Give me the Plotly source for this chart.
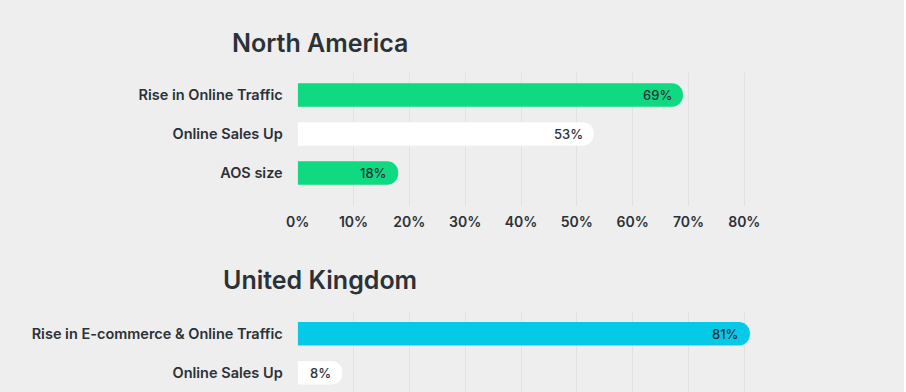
import plotly.graph_objects as go

# ---- data ----
na_categories = ["Rise in Online Traffic", "Online Sales Up", "AOS size"]
na_values = [69, 53, 18]
na_colors = ["#0fd981", "#ffffff", "#0fd981"]

uk_categories = ["Rise in E-commerce & Online Traffic", "Online Sales Up"]
uk_values = [81, 8]
uk_colors = ["#05c9e6", "#ffffff"]

x_tickvals = [0, 10, 20, 30, 40, 50, 60, 70, 80]
x_ticktext = [f"{v}%" for v in x_tickvals]

titles = ["North America", "United Kingdom"]

# ---- style ----
W, H = 904, 392
BG = "#eeeeee"
GRID = "#e2e2e2"
TXT = "#2b3137"
FONT = "Inter"

fig = go.Figure()

fig.add_trace(go.Bar(
    x=na_values, y=na_categories, orientation="h",
    marker=dict(color=na_colors, cornerradius="50%", line=dict(width=0)),
    width=0.6, xaxis="x", yaxis="y", hoverinfo="skip",
))
fig.add_trace(go.Bar(
    x=uk_values, y=uk_categories, orientation="h",
    marker=dict(color=uk_colors, cornerradius="50%", line=dict(width=0)),
    width=0.6, xaxis="x2", yaxis="y2", hoverinfo="skip",
))

annotations = []
for cats, vals, xr, yr in [(na_categories, na_values, "x", "y"),
                            (uk_categories, uk_values, "x2", "y2")]:
    for c, v in zip(cats, vals):
        annotations.append(dict(
            x=v, y=c, xref=xr, yref=yr, text=f"{v}%", showarrow=False,
            xanchor="right", yanchor="middle", xshift=-9,
            font=dict(family=FONT, size=13, color=TXT, weight=500),
        ))

title_y = [1 - 43.5 / H, 1 - 280 / H]
for t, ty in zip(titles, title_y):
    annotations.append(dict(
        x=320 / W, y=ty, xref="paper", yref="paper", text=t, showarrow=False,
        xanchor="center", yanchor="middle",
        font=dict(family=FONT, size=25, color=TXT, weight=600),
    ))

x0_px, px_per_unit = 297.7, (744.3 - 297.7) / 80
x_max = 90
x_dom = [x0_px / W, (x0_px + x_max * px_per_unit) / W]

xaxis_common = dict(
    domain=x_dom, range=[0, x_max], tickvals=x_tickvals, ticktext=x_ticktext,
    showgrid=True, gridcolor=GRID, gridwidth=1, zeroline=False, showline=False,
    fixedrange=True, automargin=False,
    tickfont=dict(family=FONT, size=14, color=TXT, weight=600),
)
yaxis_common = dict(
    showgrid=False, zeroline=False, showline=False, ticks="",
    ticklabelstandoff=14, fixedrange=True, automargin=False,
    tickfont=dict(family=FONT, size=14.5, color=TXT, weight=600),
)

fig.update_layout(
    width=W, height=H,
    paper_bgcolor=BG, plot_bgcolor=BG,
    margin=dict(l=0, r=0, t=0, b=0, pad=0),
    showlegend=False,
    annotations=annotations,
    xaxis=dict(**xaxis_common, anchor="y", ticklabelstandoff=6),
    yaxis=dict(**yaxis_common, anchor="x", domain=[1 - 206 / H, 1 - 73 / H],
               range=[2.846, -0.564]),
    xaxis2=dict(**xaxis_common, anchor="y2", showticklabels=False),
    yaxis2=dict(**yaxis_common, anchor="x2", domain=[0, 1 - 311.7 / H],
                range=[1.495, -0.564]),
)

fig.write_html(
    "out.html",
    config={"displayModeBar": False},
    post_script="document.body.style.margin='0';document.body.style.overflow='hidden';",
)
